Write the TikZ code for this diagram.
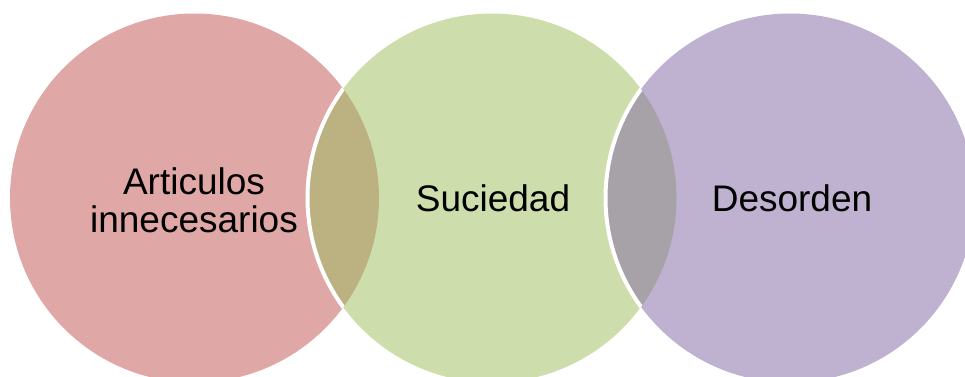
\documentclass[tikz,border=0pt]{standalone}
\usepackage{fontspec}
\setmainfont{Liberation Sans}
\definecolor{pinkc}{RGB}{223,167,166}
\definecolor{greenc}{RGB}{206,221,172}
\definecolor{purplec}{RGB}{191,178,209}
\definecolor{olivec}{RGB}{188,177,129}
\definecolor{greyc}{RGB}{167,161,168}
\tikzset{
  disc/.style={circle, minimum size=369pt, inner sep=0pt, draw=none},
  label text/.style={font=\fontsize{37}{38}\selectfont, align=center, text=black},
  rim/.style={draw=white, line width=4pt}
}
\begin{document}
\begin{tikzpicture}[x=1pt,y=-1pt]
  \useasboundingbox (0,0) rectangle (965,376);
  % three overlapping discs
  \node[disc, fill=pinkc]   (a) at (194.5,198) {};
  \node[disc, fill=greenc]  (b) at (492,198) {};
  \node[disc, fill=purplec] (c) at (790,198) {};
  % lens between first and second disc
  \begin{scope}
    \clip (a.center) circle[radius=184.5];
    \fill[olivec] (b.center) circle[radius=184.5];
    \draw[rim] (b.center) circle[radius=184.5];
  \end{scope}
  % lens between second and third disc
  \begin{scope}
    \clip (b.center) circle[radius=184.5];
    \fill[greyc] (c.center) circle[radius=184.5];
    \draw[rim] (c.center) circle[radius=184.5];
  \end{scope}
  % labels
  \node[label text] (ta) at (194,200) {Articulos\\innecesarios};
  \node[label text] (tb) at (493,198) {Suciedad};
  \node[label text] (tc) at (792,198) {Desorden};
\end{tikzpicture}
\end{document}
